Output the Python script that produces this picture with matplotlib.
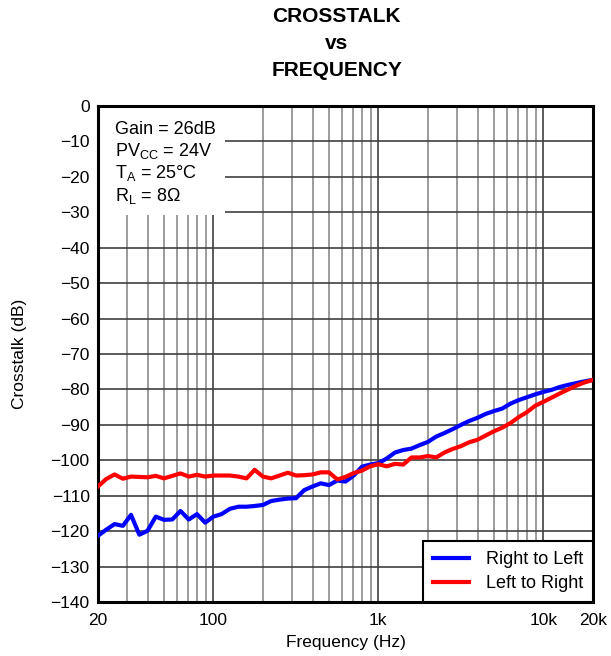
import numpy as np
import matplotlib
matplotlib.use('Agg')
from matplotlib import pyplot as plt
from matplotlib.ticker import FixedLocator, NullFormatter
from matplotlib.patches import Rectangle

plt.rcParams['font.family'] = ['Liberation Sans', 'DejaVu Sans']
plt.rcParams['mathtext.fontset'] = 'custom'
plt.rcParams['mathtext.rm'] = 'Liberation Sans'
plt.rcParams['mathtext.it'] = 'Liberation Sans:italic'

# frequency points (Hz), ~0.05 decade spacing
freq = [20, 22.4, 25.2, 28.3, 31.7, 35.6, 39.9, 44.8, 50.2, 56.4,
        63.2, 71, 79.6, 89.3, 100, 112, 126, 142, 159, 178,
        200, 224, 252, 283, 317, 356, 399, 448, 502, 564,
        632, 710, 796, 893, 1000, 1124, 1262, 1416, 1589, 1783,
        2000, 2244, 2518, 2825, 3170, 3557, 3991, 4477, 5024, 5637,
        6325, 7096, 7962, 8934, 10000, 11247, 12619, 14159, 15887, 17825,
        20000]

right_to_left = [-121.3, -119.6, -118.0, -118.5, -115.4, -121.0, -119.9, -115.9, -116.8, -116.7,
                 -114.3, -116.7, -115.2, -117.6, -115.9, -115.2, -113.7, -113.1, -113.1, -112.9,
                 -112.6, -111.5, -111.1, -110.8, -110.7, -108.4, -107.4, -106.5, -107.0, -105.7,
                 -106.0, -104.3, -101.8, -101.2, -100.8, -99.5, -97.8, -97.1, -96.7, -95.7,
                 -94.8, -93.3, -92.3, -91.2, -90.0, -88.9, -88.0, -86.9, -86.1, -85.4,
                 -84.0, -83.0, -82.2, -81.4, -80.7, -80.1, -79.3, -78.7, -78.2, -77.7,
                 -77.3]

left_to_right = [-107.4, -105.3, -104.0, -105.2, -104.6, -104.7, -104.8, -104.4, -105.1, -104.4,
                 -103.7, -104.6, -104.1, -104.6, -104.3, -104.3, -104.3, -104.6, -105.1, -102.7,
                 -104.6, -105.1, -104.3, -103.5, -104.3, -104.2, -104.0, -103.4, -103.4, -105.4,
                 -104.7, -103.6, -102.9, -101.7, -101.1, -101.7, -101.0, -101.2, -99.2, -99.2,
                 -98.8, -99.2, -97.8, -96.8, -96.0, -94.9, -94.2, -93.0, -91.8, -90.8,
                 -89.5, -87.8, -86.4, -84.6, -83.5, -82.3, -81.1, -80.0, -78.9, -78.0,
                 -77.3]

major_ticks = [20, 100, 1000, 10000, 20000]
major_labels = ['20', '100', '1k', '10k', '20k']
minor_ticks = [m * d for d in (10, 100, 1000) for m in range(2, 10)]
y_ticks = list(range(-140, 1, 10))

fig = plt.figure(figsize=(6.11, 6.56), dpi=100)
ax = fig.add_axes([0.1604, 0.0823, 0.8101, 0.7561])

ax.set_xscale('log')
ax.set_xlim(20, 20000)
ax.set_ylim(-140, 0)
ax.set_axisbelow(True)

ax.xaxis.set_major_locator(FixedLocator(major_ticks))
ax.set_xticklabels(major_labels)
ax.xaxis.set_minor_locator(FixedLocator(minor_ticks))
ax.xaxis.set_minor_formatter(NullFormatter())
ax.set_yticks(y_ticks)

ax.tick_params(which='both', length=0, labelsize=12.5)
ax.tick_params(axis='x', pad=8)
ax.tick_params(axis='y', pad=6)
ax.grid(True, which='minor', axis='x', color='#8a8a8a', lw=1.2)
ax.grid(True, which='major', axis='x', color='#404040', lw=1.2)
ax.grid(True, which='major', axis='y', color='#404040', lw=1.2)

for s in ax.spines.values():
    s.set_linewidth(2.2)
    s.set_color('black')

# white panel behind the conditions text
ax.add_patch(Rectangle((0, 0.78), 0.256, 0.22, transform=ax.transAxes,
                       facecolor='white', edgecolor='none', zorder=1))

ax.plot(freq, right_to_left, color='#0000ff', lw=3, label='Right to Left', zorder=3)
ax.plot(freq, left_to_right, color='#ff0000', lw=3, label='Left to Right', zorder=3)

conds = ['Gain = 26dB', r'PV$_{\mathrm{CC}}$ = 24V', r'T$_{\mathrm{A}}$ = 25°C', r'R$_{\mathrm{L}}$ = 8Ω']
for i, t in enumerate(conds):
    ax.text(0.034, 0.953 - i * 0.0445, t, transform=ax.transAxes, fontsize=13,
            va='center', ha='left', zorder=4)

leg = ax.legend(loc='lower right', fontsize=13, frameon=True, fancybox=False,
                borderaxespad=0, handlelength=2.0, handletextpad=0.95,
                borderpad=0.55, labelspacing=0.4)
leg.get_frame().set_edgecolor('black')
leg.get_frame().set_linewidth(1.5)
leg.get_frame().set_alpha(1)

ax.set_xlabel('Frequency (Hz)', fontsize=12.5, labelpad=5)
ax.set_ylabel('Crosstalk (dB)', fontsize=12.5, labelpad=17)

fig.text(0.551, 0.975, 'CROSSTALK', ha='center', va='center', fontsize=15, fontweight='bold')
fig.text(0.551, 0.934, 'vs', ha='center', va='center', fontsize=15, fontweight='bold')
fig.text(0.551, 0.893, 'FREQUENCY', ha='center', va='center', fontsize=15, fontweight='bold')

fig.savefig('out.png', dpi=100)
